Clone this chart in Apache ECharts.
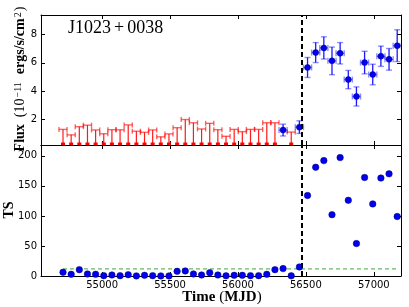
<!DOCTYPE html>
<html><head><meta charset="utf-8">
<script src="https://cdn.jsdelivr.net/npm/echarts@6/dist/echarts.min.js"></script>
<style>html,body{margin:0;padding:0;background:#fff}#c{width:409px;height:307px}</style>
</head><body><div id="c"></div>
<script>
// ---------------- data ----------------
const upperLimitBins = [54712,54772,54832,54892,54952,55012,55072,55132,55192,55252,55312,55372,55432,55492,55552,55612,55672,55732,55792,55852,55912,55972,56032,56092,56152,56212,56272,56392];
const upperLimits    = [1.27,0.88,1.46,1.57,1.23,0.96,1.25,1.24,1.59,1.14,1.06,1.23,0.74,0.95,1.39,1.97,1.74,1.30,1.70,1.25,0.78,1.27,1.11,1.27,1.27,1.74,1.74,1.08];
const detectionBins  = [56332,56452,56512,56572,56632,56692,56752,56812,56872,56932,56992,57052,57112,57172];
const detectionFlux  = [1.22,1.43,5.67,6.73,7.06,6.14,6.68,4.81,3.61,6.02,5.17,6.47,6.25,7.22];
const detectionErr   = [0.42,0.45,0.71,0.71,0.79,0.98,0.76,0.65,0.68,0.80,0.73,0.72,0.77,1.13];
const tsBins = [54712,54772,54832,54892,54952,55012,55072,55132,55192,55252,55312,55372,55432,55492,55552,55612,55672,55732,55792,55852,55912,55972,56032,56092,56152,56212,56272,56332,56392,56452,56512,56572,56632,56692,56752,56812,56872,56932,56992,57052,57112,57172];
const tsValues = [6.2,2.8,10.6,3.4,2.8,0.6,1.7,0.6,2.2,0.2,1.1,0.6,0.2,0.2,7.8,8.4,3.4,1.7,5.6,1.7,0.3,1.1,1.1,0.6,0.6,2.8,10.6,12.3,0.3,15,134,181,192,102,197,126,54,164,120,163,170,99];
const binHalfWidth = 30;
const transitionMJD = 56470;
const tsThreshold = 12;
const thresholdRange = [54712, 57172];
const xTicks = [55000,55500,56000,56500,57000];
const fluxTicks = [2,4,6,8];
const tsTicks = [0,50,100,150,200];
const xRange = [54550, 57200];
const fluxRange = [0.16, 9.4];
const tsRange = [0, 218];
// --------------------------------------

const chart = echarts.init(document.getElementById('c'), null, {renderer:'canvas'});
const tickFont = {fontFamily:'DejaVu Sans', fontSize:10, color:'#000'};
const lineStyle = {color:'#000', width:1};

function xAxisDef(grid, pos, showLabel){
  return {type:'value', gridIndex:grid, position:pos, min:xRange[0], max:xRange[1],
    axisLine:{show:true, onZero:false, lineStyle}, splitLine:{show:false},
    axisTick:{show:true, inside:true, length:4, lineStyle, customValues:xTicks},
    axisLabel:{show:showLabel, margin:4, customValues:xTicks, formatter:v=>String(v), ...tickFont}};
}
function yAxisDef(grid, pos, range, ticks, showLabel){
  return {type:'value', gridIndex:grid, position:pos, min:range[0], max:range[1],
    axisLine:{show:true, onZero:false, lineStyle}, splitLine:{show:false},
    axisTick:{show:true, inside:true, length:4, lineStyle, customValues:ticks},
    axisLabel:{show:showLabel, margin:4, customValues:ticks, formatter:v=>String(v), ...tickFont}};
}

function ulRender(params, api){
  const x = api.value(0), v = api.value(1);
  const cs = params.coordSys;
  const bottom = cs.y + cs.height;
  const t = api.coord([x, v]);
  const l = api.coord([x - binHalfWidth, v]), r = api.coord([x + binHalfWidth, v]);
  const cap = {stroke:'rgba(255,0,0,0.6)', lineWidth:1.4};
  return {type:'group', children:[
    {type:'line', shape:{x1:t[0], y1:bottom, x2:t[0], y2:t[1]}, style:{stroke:'rgba(255,0,0,0.9)', lineWidth:1.2}},
    {type:'line', shape:{x1:l[0], y1:l[1], x2:r[0], y2:r[1]}, style:cap},
    {type:'line', shape:{x1:l[0], y1:l[1]-2.5, x2:l[0], y2:l[1]+2.5}, style:cap},
    {type:'line', shape:{x1:r[0], y1:r[1]-2.5, x2:r[0], y2:r[1]+2.5}, style:cap},
    {type:'rect', shape:{x:t[0]-2, y:bottom-2.5, width:4, height:2.5}, style:{fill:'#ff0000'}}
  ]};
}
function detRender(params, api){
  const x = api.value(0), v = api.value(1), e = api.value(2);
  const c = api.coord([x, v]);
  const lo = api.coord([x, v - e]), hi = api.coord([x, v + e]);
  const l = api.coord([x - binHalfWidth, v]), r = api.coord([x + binHalfWidth, v]);
  const light = {stroke:'rgba(0,0,255,0.45)', lineWidth:1.4};
  return {type:'group', children:[
    {type:'line', shape:{x1:c[0], y1:lo[1], x2:c[0], y2:hi[1]}, style:{stroke:'rgba(0,0,255,0.9)', lineWidth:1.3}},
    {type:'line', shape:{x1:c[0]-3, y1:lo[1], x2:c[0]+3, y2:lo[1]}, style:light},
    {type:'line', shape:{x1:c[0]-3, y1:hi[1], x2:c[0]+3, y2:hi[1]}, style:light},
    {type:'line', shape:{x1:l[0], y1:l[1], x2:r[0], y2:r[1]}, style:light},
    {type:'line', shape:{x1:l[0], y1:l[1]-3, x2:l[0], y2:l[1]+3}, style:light},
    {type:'line', shape:{x1:r[0], y1:r[1]-3, x2:r[0], y2:r[1]+3}, style:light},
    {type:'circle', shape:{cx:c[0], cy:c[1], r:3}, style:{fill:'#0000ee', stroke:'#000080', lineWidth:0.5}}
  ]};
}

const serifB = {fontFamily:'Liberation Serif', fontWeight:'bold', fontSize:14, color:'#000', lineHeight:14, verticalAlign:'bottom'};
const serifR = {fontFamily:'Liberation Serif', fontSize:14, color:'#000', lineHeight:14, verticalAlign:'bottom'};
const serifSup = {fontFamily:'Liberation Serif', fontSize:10, color:'#000', lineHeight:10, verticalAlign:'top', padding:[0,1,8,1]};

const option = {
  animation:false,
  backgroundColor:'#fff',
  grid:[
    {left:41, right:8, top:15, height:130},
    {left:41, right:8, top:145, height:131}
  ],
  xAxis:[xAxisDef(0,'bottom',false), xAxisDef(0,'top',false), xAxisDef(1,'bottom',true), xAxisDef(1,'top',false)],
  yAxis:[yAxisDef(0,'left',fluxRange,fluxTicks,true), yAxisDef(0,'right',fluxRange,fluxTicks,false),
         yAxisDef(1,'left',tsRange,tsTicks,true), yAxisDef(1,'right',tsRange,tsTicks,false)],
  series:[
    {type:'custom', xAxisIndex:0, yAxisIndex:0, clip:true, renderItem:ulRender,
      data:upperLimitBins.map((m,i)=>[m, upperLimits[i]]), z:3},
    {type:'custom', xAxisIndex:0, yAxisIndex:0, clip:true, renderItem:detRender,
      data:detectionBins.map((m,i)=>[m, detectionFlux[i], detectionErr[i]]), z:4,
      markLine:{silent:true, symbol:'none', label:{show:false},
        lineStyle:{color:'#000', width:2, type:[5,3]}, data:[{xAxis:transitionMJD}]}},
    {type:'line', xAxisIndex:2, yAxisIndex:2, data:thresholdRange.map(m=>[m, tsThreshold]),
      symbol:'none', lineStyle:{color:'rgba(50,160,50,0.75)', width:1.3, type:[4,3]}, z:2},
    {type:'scatter', xAxisIndex:2, yAxisIndex:2, data:tsBins.map((m,i)=>[m, tsValues[i]]),
      symbolSize:6.5, itemStyle:{color:'#0000ee', borderColor:'#000080', borderWidth:0.5, opacity:1}, z:4, clip:false,
      markLine:{silent:true, symbol:'none', label:{show:false},
        lineStyle:{color:'#000', width:2, type:[5,3]}, data:[{xAxis:transitionMJD}]}}
  ],
  graphic:[
    {type:'text', x:68, y:19, style:{text:'{a|J1023}{p|+}{a|0038}',
      rich:{a:{fontFamily:'Liberation Serif', fontSize:18, color:'#000'},
            p:{fontFamily:'Liberation Serif', fontSize:18, color:'#000', padding:[0,3,0,3]}}}},
    {type:'text', x:20, y:79, rotation:Math.PI/2, style:{
      text:'{b|Flux}{r|  (10}{s|−11}{b|  ergs/s/cm}{s|2}{r|)}', align:'center', verticalAlign:'middle',
      rich:{b:serifB, r:serifR, s:serifSup}}},
    {type:'text', x:9, y:210, rotation:Math.PI/2, style:{text:'TS', align:'center', verticalAlign:'middle',
      fontFamily:'Liberation Serif', fontWeight:'bold', fontSize:14, fill:'#000'}},
    {type:'text', x:222, y:297, style:{text:'{b|Time }{r|(}{b|MJD}{r|)}', align:'center', verticalAlign:'middle',
      rich:{b:{...serifB, fontSize:15, lineHeight:15}, r:{...serifR, fontSize:15, lineHeight:15}}}}
  ]
};
chart.setOption(option);
</script></body></html>
